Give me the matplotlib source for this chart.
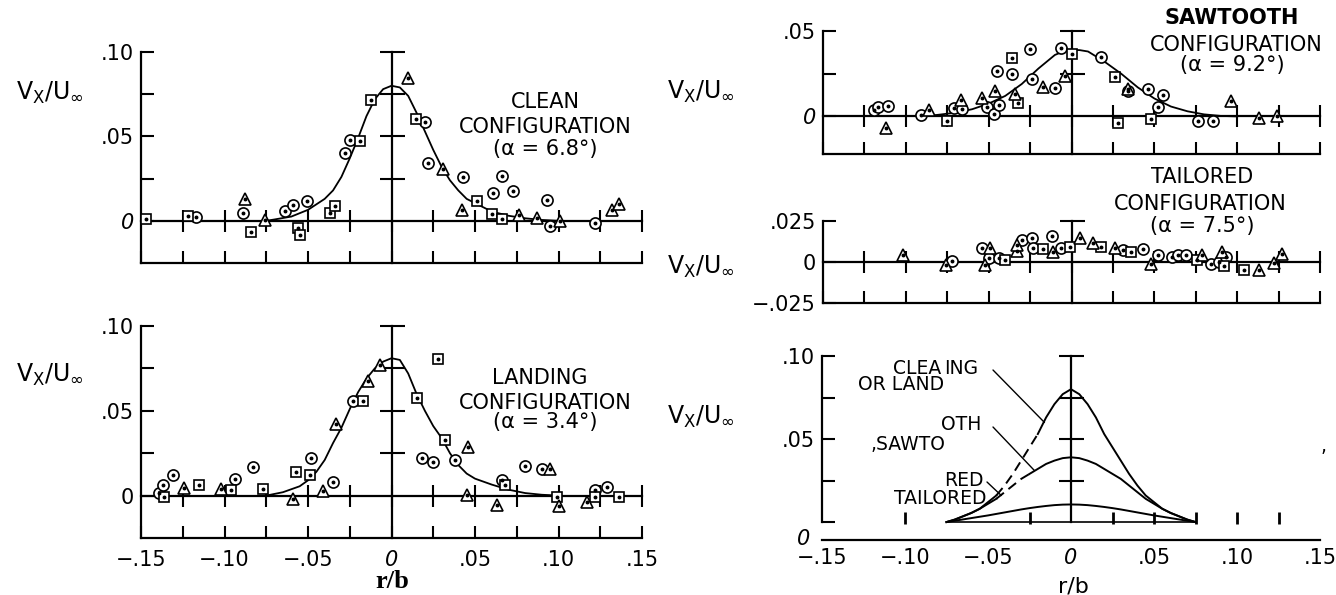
import numpy as np
import matplotlib.pyplot as plt

plt.rcParams['font.family'] = ['DejaVu Sans']

W, H = 1336, 595

# ---- CLEAN configuration (alpha = 6.8 deg) ----
clean_sq_r = [-0.147, -0.122, -0.084, -0.056, -0.055, -0.037, -0.034, -0.019, -0.012, 0.0145, 0.051, 0.060, 0.066]
clean_sq_v = [0.001, 0.003, -0.0064, -0.004, -0.0086, 0.0048, 0.0088, 0.0472, 0.0714, 0.0604, 0.0116, 0.004, 0.0012]
clean_ci_r = [-0.117, -0.089, -0.064, -0.059, -0.0505, -0.028, -0.025, 0.020, 0.022, 0.043, 0.061, 0.066, 0.073, 0.093, 0.095, 0.122]
clean_ci_v = [0.0024, 0.0048, 0.006, 0.0096, 0.012, 0.0404, 0.0478, 0.0588, 0.034, 0.026, 0.0164, 0.0264, 0.0176, 0.0124, -0.0032, -0.0012]
clean_tr_r = [-0.088, -0.076, 0.010, 0.031, 0.042, 0.0765, 0.087, 0.101, 0.132, 0.136]
clean_tr_v = [0.0128, 0.0004, 0.0844, 0.0308, 0.0064, 0.0034, 0.0014, 0.0, 0.0064, 0.010]
clean_fit_r = [-0.075, -0.07, -0.06, -0.05, -0.04, -0.035, -0.03, -0.025, -0.02, -0.015, -0.01, -0.005, 0.0,
               0.005, 0.01, 0.015, 0.02, 0.025, 0.03, 0.035, 0.04, 0.045, 0.05, 0.06, 0.07, 0.08, 0.09, 0.10]
clean_fit_v = [0.0, 0.0008, 0.0025, 0.0065, 0.013, 0.018, 0.026, 0.037, 0.049, 0.062, 0.072, 0.078, 0.080,
               0.079, 0.074, 0.064, 0.053, 0.042, 0.032, 0.024, 0.018, 0.013, 0.0105, 0.0055, 0.003, 0.0015, 0.0005, 0.0]

# ---- LANDING configuration (alpha = 3.4 deg) ----
land_ci_r = [-0.139, -0.137, -0.131, -0.094, -0.083, -0.0485, -0.035, -0.023, 0.018, 0.025, 0.038, 0.066, 0.080, 0.090, 0.122, 0.129]
land_ci_v = [0.0016, 0.006, 0.0124, 0.010, 0.017, 0.0224, 0.008, 0.056, 0.022, 0.0196, 0.0208, 0.009, 0.0174, 0.0156, 0.0034, 0.005]
land_sq_r = [-0.136, -0.115, -0.096, -0.077, -0.057, -0.049, -0.017, 0.015, 0.028, 0.032, 0.068, 0.099, 0.122, 0.136]
land_sq_v = [-0.001, 0.0064, 0.0034, 0.004, 0.014, 0.012, 0.056, 0.0576, 0.0808, 0.0328, 0.006, -0.001, -0.001, -0.0006]
land_tr_r = [-0.124, -0.102, -0.059, -0.041, -0.033, -0.014, -0.0066, 0.046, 0.045, 0.063, 0.095, 0.1005, 0.117]
land_tr_v = [0.0044, 0.004, -0.002, 0.003, 0.042, 0.0676, 0.0768, 0.0284, 0.0004, -0.0056, 0.0156, -0.006, -0.0036]
land_fit_r = [-0.075, -0.065, -0.055, -0.05, -0.045, -0.04, -0.035, -0.03, -0.025, -0.02, -0.015, -0.01, -0.005, 0.0,
              0.005, 0.01, 0.015, 0.02, 0.025, 0.03, 0.035, 0.04, 0.045, 0.05, 0.06, 0.07, 0.08, 0.09, 0.10]
land_fit_v = [0.0, 0.002, 0.0055, 0.009, 0.014, 0.021, 0.031, 0.040, 0.051, 0.061, 0.069, 0.075, 0.079, 0.081,
              0.080, 0.072, 0.060, 0.050, 0.041, 0.034, 0.025, 0.018, 0.013, 0.010, 0.0065, 0.0035, 0.0015, 0.0005, 0.0]

# ---- SAWTOOTH configuration (alpha = 9.2 deg) ----
saw_ci_r = [-0.119, -0.117, -0.111, -0.091, -0.071, -0.066, -0.051, -0.047, -0.044, -0.045, -0.036, -0.025, -0.024,
            -0.0097, -0.0066, 0.018, 0.034, 0.046, 0.052, 0.055, 0.0765, 0.0855]
saw_ci_v = [0.0039, 0.0056, 0.006, 0.0008, 0.005, 0.0043, 0.0056, 0.0014, 0.0066, 0.0263, 0.0251, 0.0393, 0.0218,
            0.0165, 0.0403, 0.035, 0.015, 0.016, 0.0056, 0.0126, -0.0029, -0.0029]
saw_sq_r = [-0.075, -0.036, -0.032, 0.0005, 0.026, 0.028, 0.048]
saw_sq_v = [-0.0025, 0.034, 0.0076, 0.0368, 0.0232, -0.004, -0.0016]
saw_tr_r = [-0.112, -0.086, -0.067, -0.054, -0.046, -0.034, -0.017, -0.004, 0.034, 0.096, 0.113, 0.124]
saw_tr_v = [-0.007, 0.0037, 0.0095, 0.0107, 0.015, 0.0134, 0.0173, 0.0235, 0.016, 0.0088, -0.001, 0.0004]
saw_fit_r = [-0.09, -0.08, -0.07, -0.06, -0.05, -0.04, -0.03, -0.02, -0.01, -0.005, 0.0, 0.005, 0.01,
             0.02, 0.03, 0.04, 0.05, 0.06, 0.07, 0.08, 0.09, 0.10]
saw_fit_v = [0.0, 0.001, 0.0022, 0.0042, 0.0075, 0.012, 0.019, 0.028, 0.036, 0.038, 0.039, 0.0388, 0.038,
             0.032, 0.025, 0.017, 0.0105, 0.0058, 0.003, 0.0012, 0.0003, 0.0]

# ---- TAILORED configuration (alpha = 7.5 deg) ----
tail_tr_r = [-0.102, -0.076, -0.052, -0.049, -0.033, -0.033, -0.011, 0.005, 0.013, 0.026, 0.048, 0.079, 0.091, 0.113, 0.122, 0.127]
tail_tr_v = [0.0044, -0.002, -0.0016, 0.0088, 0.0068, 0.0104, 0.0064, 0.0144, 0.0116, 0.0084, -0.0012, 0.0044, 0.0058, -0.0046, -0.0006, 0.0048]
tail_ci_r = [-0.072, -0.054, -0.050, -0.044, -0.030, -0.024, -0.023, -0.012, -0.0066, 0.031, 0.043, 0.052, 0.0605,
             0.064, 0.069, 0.084, 0.089, 0.093]
tail_ci_v = [0.0004, 0.0088, 0.0024, 0.0024, 0.0136, 0.0144, 0.0084, 0.016, 0.0088, 0.0072, 0.008, 0.004, 0.0028,
             0.0044, 0.004, -0.0012, 0.0, 0.0028]
tail_sq_r = [-0.040, -0.017, -0.001, 0.018, 0.036, 0.076, 0.092, 0.104]
tail_sq_v = [0.0014, 0.008, 0.0094, 0.0094, 0.0064, 0.0014, -0.0026, -0.0046]

# ---- summary curves ----
sum_r = [-0.075, -0.07, -0.065, -0.06, -0.055, -0.05, -0.045, -0.04, -0.035, -0.03, -0.025, -0.02, -0.015, -0.01, -0.005,
         0.0, 0.005, 0.01, 0.015, 0.02, 0.025, 0.03, 0.035, 0.04, 0.045, 0.05, 0.055, 0.06, 0.065, 0.07, 0.075]
sum_clean = [0.0, 0.0015, 0.0035, 0.0055, 0.008, 0.012, 0.016, 0.022, 0.029, 0.037, 0.045, 0.053, 0.063, 0.071, 0.077,
             0.080, 0.077, 0.071, 0.063, 0.053, 0.045, 0.037, 0.029, 0.022, 0.016, 0.012, 0.008, 0.0055, 0.0035, 0.0015, 0.0]
sum_saw = [0.0, 0.0015, 0.0035, 0.0055, 0.008, 0.011, 0.014, 0.018, 0.022, 0.026, 0.029, 0.032, 0.035, 0.037, 0.0385,
           0.039, 0.0385, 0.037, 0.035, 0.032, 0.029, 0.026, 0.022, 0.018, 0.014, 0.011, 0.008, 0.0055, 0.0035, 0.0015, 0.0]
sum_tail = [0.0, 0.0008, 0.0016, 0.0024, 0.0032, 0.004, 0.0049, 0.0058, 0.0067, 0.0076, 0.0084, 0.0091, 0.0097, 0.0102, 0.0105,
            0.0106, 0.0105, 0.0102, 0.0097, 0.0091, 0.0084, 0.0076, 0.0067, 0.0058, 0.0049, 0.004, 0.0032, 0.0024, 0.0016, 0.0008, 0.0]

xtick_pos = [-0.15, -0.125, -0.10, -0.075, -0.05, -0.025, 0.0, 0.025, 0.05, 0.075, 0.10, 0.125, 0.15]
xtick_txt = ['\u2212.15', '', '\u2212.10', '', '\u2212.05', '', '0', '', '.05', '', '.10', '', '.15']

fig = plt.figure(figsize=(13.36, 5.95), dpi=100)


def px_axes(x0, x1, ytop, ybot):
    return fig.add_axes([x0 / W, 1 - ybot / H, (x1 - x0) / W, (ybot - ytop) / H])


def frame(ax, ylo, yhi, yticks, ylabels, italic_zero=True, show_x=False):
    ax.set_xlim(-0.15, 0.15)
    ax.set_ylim(ylo, yhi)
    ax.patch.set_alpha(0)
    for s in ['top', 'right']:
        ax.spines[s].set_visible(False)
    for s in ['left', 'bottom']:
        ax.spines[s].set_linewidth(1.6)
    ax.set_xticks(xtick_pos)
    ax.set_xticklabels(xtick_txt if show_x else [''] * len(xtick_pos))
    ax.set_yticks(yticks)
    ax.set_yticklabels(ylabels)
    ax.tick_params(direction='in', length=9, width=1.5, labelsize=15)
    ax.tick_params(axis='x', pad=9)
    ax.tick_params(axis='y', pad=5)
    for lab in ax.get_yticklabels() + ax.get_xticklabels():
        if lab.get_text() == '0' and (italic_zero or lab in ax.get_xticklabels()):
            lab.set_style('italic')
    # zero line with crossing ticks
    ax.plot([-0.15, 0.15], [0, 0], color='k', lw=1.6, clip_on=False)
    ax.plot(xtick_pos[1:], [0] * (len(xtick_pos) - 1), ls='none', marker='|', ms=16, mew=1.5,
            color='k', clip_on=False)
    # r = 0 line with crossing ticks
    ax.plot([0, 0], [ylo, yhi], color='k', lw=1.6, clip_on=False)
    inner = [t for t in yticks if t > 0]
    ax.plot([0] * len(inner), inner, ls='none', marker='_', ms=18, mew=1.5, color='k', clip_on=False)


def pts(ax, r, v, m, ms):
    ax.plot(r, v, ls='none', marker=m, ms=ms, mfc='white', mec='k', mew=1.2, clip_on=False, zorder=3)
    ax.plot(r, v, ls='none', marker='o', ms=1.8, color='k', clip_on=False, zorder=4)


def data_panel(ax, ci, sq, tr):
    pts(ax, ci[0], ci[1], 'o', 8)
    pts(ax, sq[0], sq[1], 's', 7.5)
    pts(ax, tr[0], tr[1], '^', 8.5)


def ftext(x, y, s, **kw):
    kw.setdefault('ha', 'center')
    kw.setdefault('va', 'center')
    kw.setdefault('fontsize', 15)
    fig.text(x / W, 1 - y / H, s, **kw)


vlab = r'$\mathregular{V_X/U_\infty}$'

# panel 1: clean
ax1 = px_axes(141, 642, 52, 263)
frame(ax1, -0.025, 0.10, [0, 0.025, 0.05, 0.075, 0.10], ['0', '', '.05', '', '.10'])
ax1.plot(clean_fit_r, clean_fit_v, color='k', lw=1.3)
data_panel(ax1, (clean_ci_r, clean_ci_v), (clean_sq_r, clean_sq_v), (clean_tr_r, clean_tr_v))
ftext(50, 93, vlab, fontsize=17)
ftext(545, 102, 'CLEAN')
ftext(545, 127, 'CONFIGURATION')
ftext(545, 149, '(\u03b1 = 6.8\u00b0)')

# panel 2: landing
ax2 = px_axes(141, 642, 326, 538)
frame(ax2, -0.025, 0.10, [0, 0.025, 0.05, 0.075, 0.10], ['0', '', '.05', '', '.10'],
      italic_zero=False, show_x=True)
ax2.plot(land_fit_r, land_fit_v, color='k', lw=1.3)
data_panel(ax2, (land_ci_r, land_ci_v), (land_sq_r, land_sq_v), (land_tr_r, land_tr_v))
ftext(50, 375, vlab, fontsize=17)
ftext(540, 378, 'LANDING')
ftext(545, 403, 'CONFIGURATION')
ftext(545, 422, '(\u03b1 = 3.4\u00b0)')
ftext(392, 582, 'r/b', family='Liberation Serif', weight='bold', fontsize=19)

# panel 3: sawtooth
ax3 = px_axes(823, 1320, 31, 154)
frame(ax3, -0.022, 0.05, [0, 0.025, 0.05], ['0', '', '.05'])
ax3.plot(saw_fit_r, saw_fit_v, color='k', lw=1.3)
data_panel(ax3, (saw_ci_r, saw_ci_v), (saw_sq_r, saw_sq_v), (saw_tr_r, saw_tr_v))
ftext(701, 92, vlab, fontsize=17)
ftext(1232, 18, 'SAWTOOTH', weight='semibold')
ftext(1236, 45, 'CONFIGURATION')
ftext(1232, 65, '(\u03b1 = 9.2\u00b0)')

# panel 4: tailored
ax4 = px_axes(823, 1320, 221, 303)
frame(ax4, -0.025, 0.025, [-0.025, 0, 0.025], ['\u2212.025', '0', '.025'], italic_zero=False)
data_panel(ax4, (tail_ci_r, tail_ci_v), (tail_sq_r, tail_sq_v), (tail_tr_r, tail_tr_v))
ftext(701, 267, vlab, fontsize=17)
ftext(1202, 177, 'TAILORED')
ftext(1200, 204, 'CONFIGURATION')
ftext(1202, 226, '(\u03b1 = 7.5\u00b0)')

# panel 5: summary of faired curves
ylo5 = -0.0108
ax5 = px_axes(822, 1320, 356, 540)
ax5.set_xlim(-0.15, 0.15)
ax5.set_ylim(ylo5, 0.10)
ax5.patch.set_alpha(0)
for s in ['top', 'right']:
    ax5.spines[s].set_visible(False)
ax5.spines['left'].set_linewidth(1.6)
ax5.spines['bottom'].set_linewidth(1.6)
ax5.spines['left'].set_bounds(0, 0.10)
ax5.set_xticks(xtick_pos)
ax5.set_xticklabels(xtick_txt)
ax5.set_yticks([0, 0.025, 0.05, 0.075, 0.10])
ax5.set_yticklabels(['', '', '.05', '', '.10'])
ax5.tick_params(axis='y', direction='in', length=9, width=1.5, labelsize=15, pad=5)
ax5.tick_params(axis='x', length=0, labelsize=15, pad=6)
for lab in ax5.get_xticklabels():
    if lab.get_text() == '0':
        lab.set_style('italic')
ax5.plot([0, 0], [0, 0.10], color='k', lw=1.6, clip_on=False)
ax5.plot([0, 0, 0, 0], [0.025, 0.05, 0.075, 0.10], ls='none', marker='_', ms=18, mew=1.5, color='k', clip_on=False)
ax5.vlines([-0.10, -0.025, 0.025, 0.05, 0.075, 0.10, 0.125], -0.001, 0.006, color='k', lw=2)
ax5.plot([-0.075, 0.075], [0, 0], color='k', lw=1.2)

sr = np.array(sum_r)
sc = np.array(sum_clean)
ss = np.array(sum_saw)
ax5.plot(sr[sr >= -0.02], sc[sr >= -0.02], color='k', lw=1.4)
ax5.plot(sr[sr <= -0.045], sc[sr <= -0.045], color='k', lw=1.4)
dc = (sr >= -0.045) & (sr <= -0.02)
ax5.plot(sr[dc], sc[dc], color='k', lw=1.4, ls=(0, (5, 3)))
ax5.plot(sr[sr >= -0.025], ss[sr >= -0.025], color='k', lw=1.4)
ax5.plot(sr[sr <= -0.045], ss[sr <= -0.045], color='k', lw=1.4)
ds = (sr >= -0.045) & (sr <= -0.025)
ax5.plot(sr[ds], ss[ds], color='k', lw=1.4, ls=(0, (5, 3)))
ax5.plot(sr, sum_tail, color='k', lw=1.4)

ftext(701, 417, vlab, fontsize=17)
ftext(810, 539, '0', ha='right', style='italic')
ftext(1073, 586, 'r/b', fontsize=16)

lab_kw = dict(fontsize=13.5)
ftext(941, 368, 'CLEA', ha='right', **lab_kw)
ftext(944, 368, 'ING', ha='left', **lab_kw)
ftext(944, 385, 'OR LAND', ha='right', **lab_kw)
ftext(941, 425, 'OTH', ha='left', **lab_kw)
ftext(945, 445, ',SAWTO', ha='right', **lab_kw)
ftext(944, 480, 'RED', ha='left', **lab_kw)
ftext(986, 499, 'TAILORED', ha='right', **lab_kw)
ftext(1324, 447, ',', **lab_kw)

arr = dict(arrowstyle='-', color='k', lw=1.0, shrinkA=0, shrinkB=0)
ax5.annotate('', xy=(-0.016, 0.060), xytext=(993, H - 370), textcoords='figure pixels', arrowprops=arr)
ax5.annotate('', xy=(-0.022, 0.031), xytext=(993, H - 427), textcoords='figure pixels', arrowprops=arr)
ax5.annotate('', xy=(-0.042, 0.016), xytext=(987, H - 482), textcoords='figure pixels', arrowprops=arr)

fig.savefig('out.png', dpi=100)
